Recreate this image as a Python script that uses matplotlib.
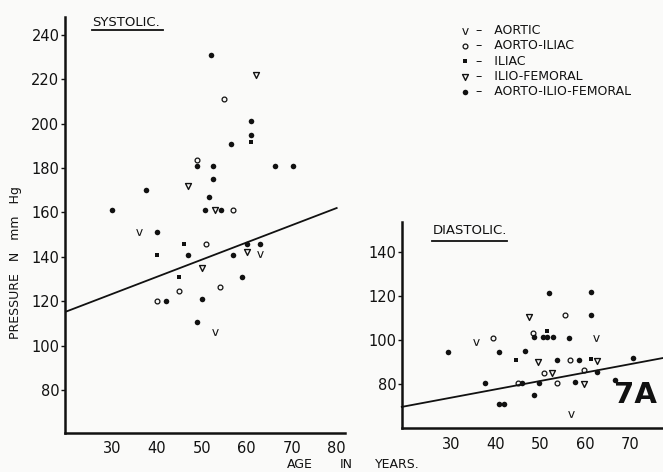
import matplotlib
matplotlib.use("Agg")
import matplotlib.pyplot as plt
from matplotlib.lines import Line2D

# Systolic points (age, pressure) per vessel group
sys_aortic_x = [36, 63, 53]
sys_aortic_y = [151, 141.5, 106]
sys_aorto_iliac_x = [55, 49, 57, 51, 54, 45, 40]
sys_aorto_iliac_y = [211, 183.6, 161, 146, 126.4, 124.7, 120]
sys_iliac_x = [61, 40, 46, 45]
sys_iliac_y = [191.5, 141, 146, 131]
sys_ilio_fem_x = [62, 47, 53, 60, 50]
sys_ilio_fem_y = [222, 172, 161, 142, 135]
sys_aif_x = [52, 61, 61, 56.5, 49, 52.6, 66.3, 70.4, 52.6, 37.6, 51.6, 30,
             50.7, 54.2, 40, 47, 57, 60, 63, 59, 42, 50, 49]
sys_aif_y = [231, 201, 195, 191, 181, 181, 181, 181, 175, 170, 167, 161,
             161, 161, 151, 141, 141, 146, 146, 131, 120, 121, 110.5]
sys_fit_x = [20, 80]
sys_fit_y = [115.5, 162]

# Diastolic points
dia_aortic_x = [35.5, 56.8, 62.4]
dia_aortic_y = [99.4, 66.4, 101]
dia_aorto_iliac_x = [39.4, 45, 48.4, 50.8, 53.8, 55.4, 56.7, 59.8]
dia_aorto_iliac_y = [101.2, 80.7, 103.5, 85, 80.7, 111.5, 91, 86.5]
dia_iliac_x = [44.6, 51.5, 61.3]
dia_iliac_y = [91, 104, 91.3]
dia_ilio_fem_x = [47.5, 49.5, 52.6, 59.8, 62.7]
dia_ilio_fem_y = [110.5, 90, 85, 80.3, 90.6]
dia_aif_x = [29.4, 40.7, 37.6, 40.8, 41.8, 46.6, 45.9, 48.5, 49.7, 48.6, 51.9,
             50.6, 51.5, 52.8, 53.7, 56.4, 58.6, 57.7, 61.3, 61.3, 62.7, 66.7, 70.8]
dia_aif_y = [94.8, 94.8, 80.6, 70.9, 70.9, 95.1, 80.7, 101.3, 80.7, 75.1, 121.6,
             101.5, 101.5, 101.5, 91, 101.2, 91, 81, 121.8, 111.5, 85.6, 81.8, 92]
dia_fit_x = [19, 77.5]
dia_fit_y = [69.8, 92]

group_names = ["AORTIC", "AORTO-ILIAC", "ILIAC", "ILIO-FEMORAL", "AORTO-ILIO-FEMORAL"]

bg = "#fafaf9"
ink = "#111111"

plt.rcParams["font.family"] = ["DejaVu Sans"]

fig = plt.figure(figsize=(6.63, 4.72), dpi=100, facecolor=bg)


def draw_panel(ax, groups, fit_x, fit_y):
    handles = []
    # aortic: letter v
    handles.append(ax.scatter(*groups[0], marker=r"$\mathsf{v}$", s=24, c=ink, linewidths=0))
    # aorto-iliac: open circle
    handles.append(ax.scatter(*groups[1], marker="o", s=12, facecolors=bg, edgecolors=ink, linewidths=0.9))
    # iliac: small filled square
    handles.append(ax.scatter(*groups[2], marker="s", s=7, c=ink, linewidths=0))
    # ilio-femoral: open down triangle
    handles.append(ax.scatter(*groups[3], marker="v", s=18, facecolors=bg, edgecolors=ink, linewidths=1.0))
    # aorto-ilio-femoral: filled dot
    handles.append(ax.scatter(*groups[4], marker="o", s=16, c=ink, linewidths=0))
    ax.plot(fit_x, fit_y, color=ink, lw=1.3, clip_on=False)

    ax.set_facecolor(bg)
    for side in ["top", "right"]:
        ax.spines[side].set_visible(False)
    for side in ["left", "bottom"]:
        ax.spines[side].set_linewidth(1.8)
        ax.spines[side].set_color(ink)
    ax.tick_params(axis="y", direction="out", length=3, width=1, labelsize=10.5, pad=1, colors=ink)
    ax.tick_params(axis="x", direction="out", length=0, labelsize=10.5, pad=6, colors=ink)
    return handles


# systolic panel
ax1 = fig.add_axes([0.098, 0.083, 0.422, 0.881])
h = draw_panel(ax1,
               [(sys_aortic_x, sys_aortic_y), (sys_aorto_iliac_x, sys_aorto_iliac_y),
                (sys_iliac_x, sys_iliac_y), (sys_ilio_fem_x, sys_ilio_fem_y),
                (sys_aif_x, sys_aif_y)],
               sys_fit_x, sys_fit_y)
ax1.set_xlim(19.6, 81.8)
ax1.set_ylim(60.8, 248)
ax1.set_xticks([30, 40, 50, 60, 70, 80])
ax1.set_yticks([80, 100, 120, 140, 160, 180, 200, 220, 240])

# diastolic panel
ax2 = fig.add_axes([0.606, 0.0926, 0.394, 0.437])
draw_panel(ax2,
           [(dia_aortic_x, dia_aortic_y), (dia_aorto_iliac_x, dia_aorto_iliac_y),
            (dia_iliac_x, dia_iliac_y), (dia_ilio_fem_x, dia_ilio_fem_y),
            (dia_aif_x, dia_aif_y)],
           dia_fit_x, dia_fit_y)
ax2.set_xlim(19, 77.4)
ax2.set_ylim(60.1, 153.6)
ax2.set_xticks([30, 40, 50, 60, 70])
ax2.set_yticks([80, 100, 120, 140])

# panel titles, underlined
fig.text(0.139, 0.953, "SYSTOLIC.", fontsize=9.5, color=ink, ha="left", va="center")
fig.add_artist(Line2D([0.139, 0.246], [0.936, 0.936], color=ink, lw=1.3))
fig.text(0.652, 0.511, "DIASTOLIC.", fontsize=9.5, color=ink, ha="left", va="center")
fig.add_artist(Line2D([0.652, 0.765], [0.489, 0.489], color=ink, lw=1.3))

# axis labels
fig.text(0.023, 0.443, "PRESSURE   N   mm   Hg", rotation=90, fontsize=9,
         color=ink, ha="center", va="center")
fig.text(0.433, 0.015, "AGE", fontsize=9, color=ink, ha="left", va="center")
fig.text(0.513, 0.015, "IN", fontsize=9, color=ink, ha="left", va="center")
fig.text(0.566, 0.015, "YEARS.", fontsize=9, color=ink, ha="left", va="center")

fig.text(0.958, 0.163, "7A", fontsize=21, fontweight="bold", color=ink,
         ha="center", va="center")

fig.legend(h, ["–   " + n for n in group_names], loc="upper left",
           bbox_to_anchor=(0.692, 0.949), frameon=False, fontsize=9,
           labelspacing=0.18, handlelength=1.0, handletextpad=0.4,
           borderpad=0, borderaxespad=0, labelcolor=ink)

fig.savefig("out.png", dpi=100, facecolor=bg)
